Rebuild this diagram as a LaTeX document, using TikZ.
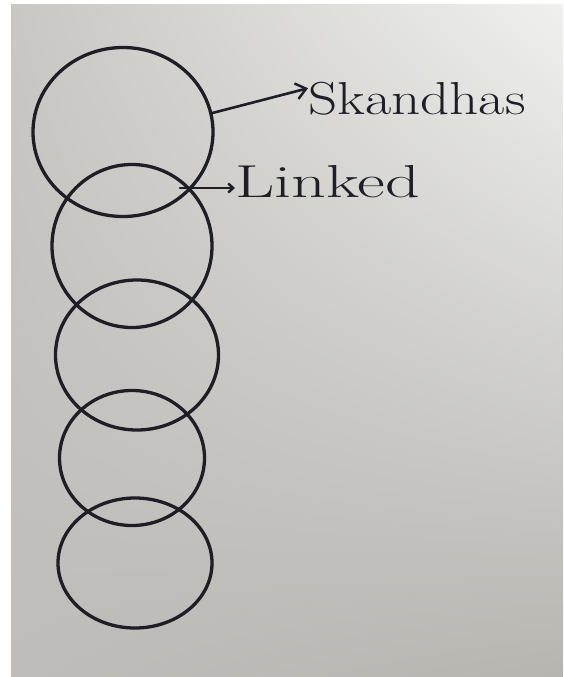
\documentclass[tikz,border=0pt]{standalone}
\usetikzlibrary{shapes.geometric,arrows.meta,shadings}
\definecolor{ink}{HTML}{1F1D26}
\definecolor{paperTL}{HTML}{C8C7C4}
\definecolor{paperTR}{HTML}{F0F0EE}
\definecolor{paperBL}{HTML}{BEBDB9}
\definecolor{paperBR}{HTML}{B6B5B0}
\tikzset{
  ring/.style={draw=ink, line width=3.3pt, ellipse, inner sep=0pt},
  hand/.style={text=ink, font=\fontsize{42}{42}\selectfont, inner sep=0pt},
  arr/.style={draw=ink, line width=2.6pt, line cap=round, -{Straight Barb[length=10pt,width=16pt,line width=2.4pt]}},
  smallarr/.style={draw=ink, line width=2.6pt, line cap=round, -{Straight Barb[length=5pt,width=9pt,line width=2.4pt]}}
}
\begin{document}
\begin{tikzpicture}[x=1pt,y=-1pt]
\useasboundingbox (0,0) rectangle (563,677);
\fill[white] (0,0) rectangle (563,677);
\shade[upper left=paperTL, upper right=paperTR, lower left=paperBL, lower right=paperBR] (11,5) rectangle (563,677);
% rings
\node[ring, minimum width=180pt, minimum height=169pt] (c1) at (123,132) {};
\node[ring, minimum width=160pt, minimum height=163pt] (c2) at (132,246) {};
\node[ring, minimum width=163pt, minimum height=150pt] (c3) at (137,355) {};
\node[ring, minimum width=145pt, minimum height=135pt] (c4) at (132,458) {};
\node[ring, minimum width=154pt, minimum height=130pt] (c5) at (135,563) {};
% labels
\node[hand, anchor=base west] (sk) at (308,114) {\scalebox{1.36}[1.1]{Skandhas}};
\node[hand, anchor=base west] (lk) at (235,197) {\scalebox{1.62}[1.1]{Linked}};
\coordinate (x12) at (180,188);
\draw[arr] (c1.12) -- ([yshift=10pt]sk.west);
\draw[smallarr] (x12) -- (x12 -| lk.west);
\end{tikzpicture}
\end{document}
